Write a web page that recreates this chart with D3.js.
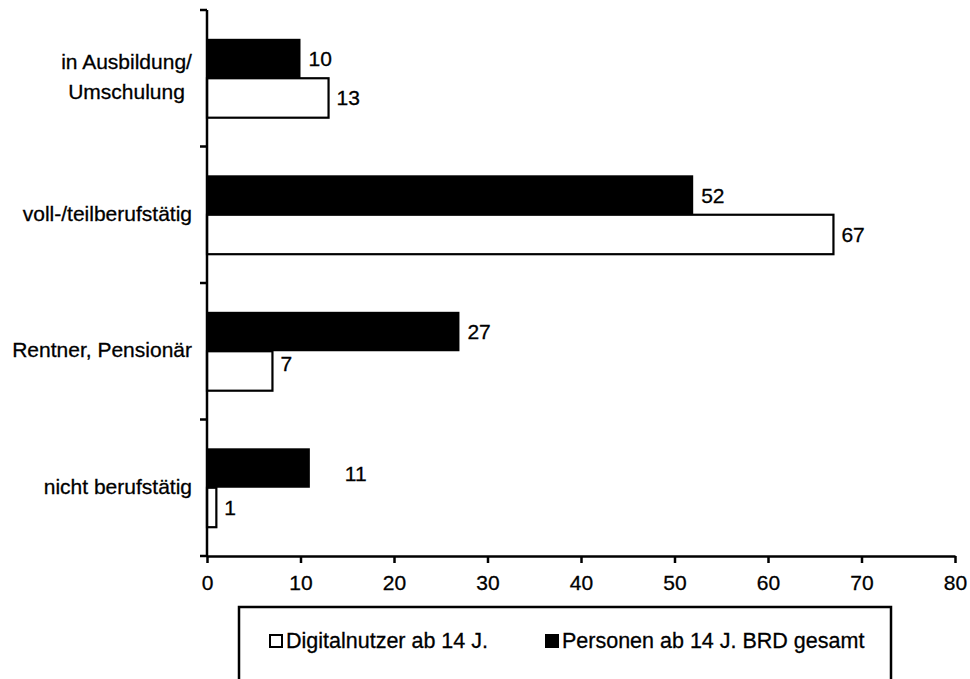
<!DOCTYPE html>
<html>
<head>
<meta charset="utf-8">
<script src="https://cdn.jsdelivr.net/npm/d3@7/dist/d3.min.js"></script>
<style>
  html, body { margin: 0; padding: 0; background: #fff; }
  svg { display: block; font-family: "Liberation Sans", Arial, sans-serif; }
  svg text { stroke: #000; stroke-width: 0.3px; }
</style>
</head>
<body>
<svg id="chart" width="970" height="679"></svg>
<script>
// Occupational status: share (%) of digital users vs. total population aged 14+
const categories = [
  ["in Ausbildung/", "Umschulung"],
  ["voll-/teilberufstätig"],
  ["Rentner, Pensionär"],
  ["nicht berufstätig"]
];
const seriesNames = ["Personen ab 14 J. BRD gesamt", "Digitalnutzer ab 14 J."];
const personenValues = [10, 52, 27, 11];
const digitalValues = [13, 67, 7, 1];
const xTicks = [0, 10, 20, 30, 40, 50, 60, 70, 80];

const svg = d3.select("#chart");
const catKeys = categories.map(c => c.join(" "));

const x = d3.scaleLinear().domain([0, 80]).range([207, 955]);
const y = d3.scaleBand().domain(catKeys).range([10, 556]).padding(0);
const ySub = d3.scaleBand().domain(seriesNames)
  .range([0, y.bandwidth()]).paddingInner(0).paddingOuter(0.73);

const rows = catKeys.map((k, i) => ({
  key: k,
  lines: categories[i],
  values: [
    { series: seriesNames[0], value: personenValues[i] },
    { series: seriesNames[1], value: digitalValues[i] }
  ]
}));

// Bars
const groups = svg.append("g").selectAll("g").data(rows).join("g")
  .attr("transform", d => `translate(0,${y(d.key)})`);

groups.selectAll("rect").data(d => d.values).join("rect")
  .attr("x", x(0))
  .attr("y", d => ySub(d.series))
  .attr("width", d => x(d.value) - x(0))
  .attr("height", ySub.bandwidth())
  .attr("fill", d => d.series === seriesNames[0] ? "#000" : "#fff")
  .attr("stroke", "#000")
  .attr("stroke-width", d => d.series === seriesNames[0] ? 0 : 2.2);

// Value labels (one label was moved aside in the original layout)
const labelNudge = { "nicht berufstätig|0": [27, 5], "Rentner, Pensionär|1": [0, -7] };
const nudge = d => labelNudge[d.key + "|" + d.j] || [0, 0];
groups.selectAll("text.val").data(d => d.values.map((v, j) => ({ ...v, j, key: d.key }))).join("text")
  .attr("class", "val")
  .attr("x", d => x(d.value) + 8 + nudge(d)[0])
  .attr("y", d => ySub(d.series) + ySub.bandwidth() / 2 + 7.5 + nudge(d)[1])
  .attr("font-size", 21)
  .attr("fill", "#000")
  .text(d => d.value);

// Category labels: centred lines, block right-aligned at the axis margin
const catText = svg.append("g").selectAll("text").data(rows).join("text")
  .attr("text-anchor", "middle")
  .attr("font-size", 21)
  .attr("fill", "#000");
catText.each(function(d) {
  const t = d3.select(this);
  const n = d.lines.length;
  const cy = y(d.key) + y.bandwidth() / 2;
  d.lines.forEach((line, i) => {
    t.append("tspan")
      .attr("x", 0)
      .attr("y", cy + 6 + (i - (n - 1) / 2) * 30)
      .text(line);
  });
  const bb = this.getBBox();
  t.selectAll("tspan").attr("x", 192 - bb.width / 2);
});

// Y axis with ticks at category boundaries
const yAxisG = svg.append("g");
yAxisG.append("line")
  .attr("x1", x(0)).attr("x2", x(0))
  .attr("y1", y.range()[0]).attr("y2", y.range()[1])
  .attr("stroke", "#000").attr("stroke-width", 2.5);
const bounds = catKeys.map(k => y(k)).concat([y.range()[1]]);
yAxisG.selectAll("line.tick").data(bounds).join("line")
  .attr("class", "tick")
  .attr("x1", x(0) - 7).attr("x2", x(0))
  .attr("y1", d => d).attr("y2", d => d)
  .attr("stroke", "#000").attr("stroke-width", 2.5);

// X axis
const xAxis = d3.axisBottom(x).tickValues(xTicks).tickSize(7).tickSizeOuter(0).tickPadding(12);
const xg = svg.append("g").attr("transform", `translate(0,${y.range()[1]})`).call(xAxis);
xg.select(".domain").attr("stroke-width", 2.5).attr("stroke", "#000");
xg.selectAll(".tick line").attr("stroke-width", 2.5).attr("stroke", "#000");
xg.selectAll(".tick text")
  .attr("font-size", 21)
  .attr("font-family", "Liberation Sans, Arial, sans-serif")
  .attr("fill", "#000");

// Legend
const lg = svg.append("g");
lg.append("rect")
  .attr("x", 239).attr("y", 607).attr("width", 652).attr("height", 120)
  .attr("fill", "none").attr("stroke", "#000").attr("stroke-width", 2.5);
const legendItems = [
  { name: seriesNames[1], fill: "#fff", x: 269 },
  { name: seriesNames[0], fill: "#000", x: 545 }
];
const li = lg.selectAll("g.item").data(legendItems).join("g").attr("class", "item")
  .attr("transform", d => `translate(${d.x},634)`);
li.append("rect")
  .attr("x", 1).attr("y", 1).attr("width", 12).attr("height", 12)
  .attr("fill", d => d.fill).attr("stroke", "#000").attr("stroke-width", 2);
li.append("text")
  .attr("x", 17).attr("y", 13.5)
  .attr("font-size", 21.5).attr("fill", "#000")
  .text(d => d.name);
</script>
</body>
</html>
